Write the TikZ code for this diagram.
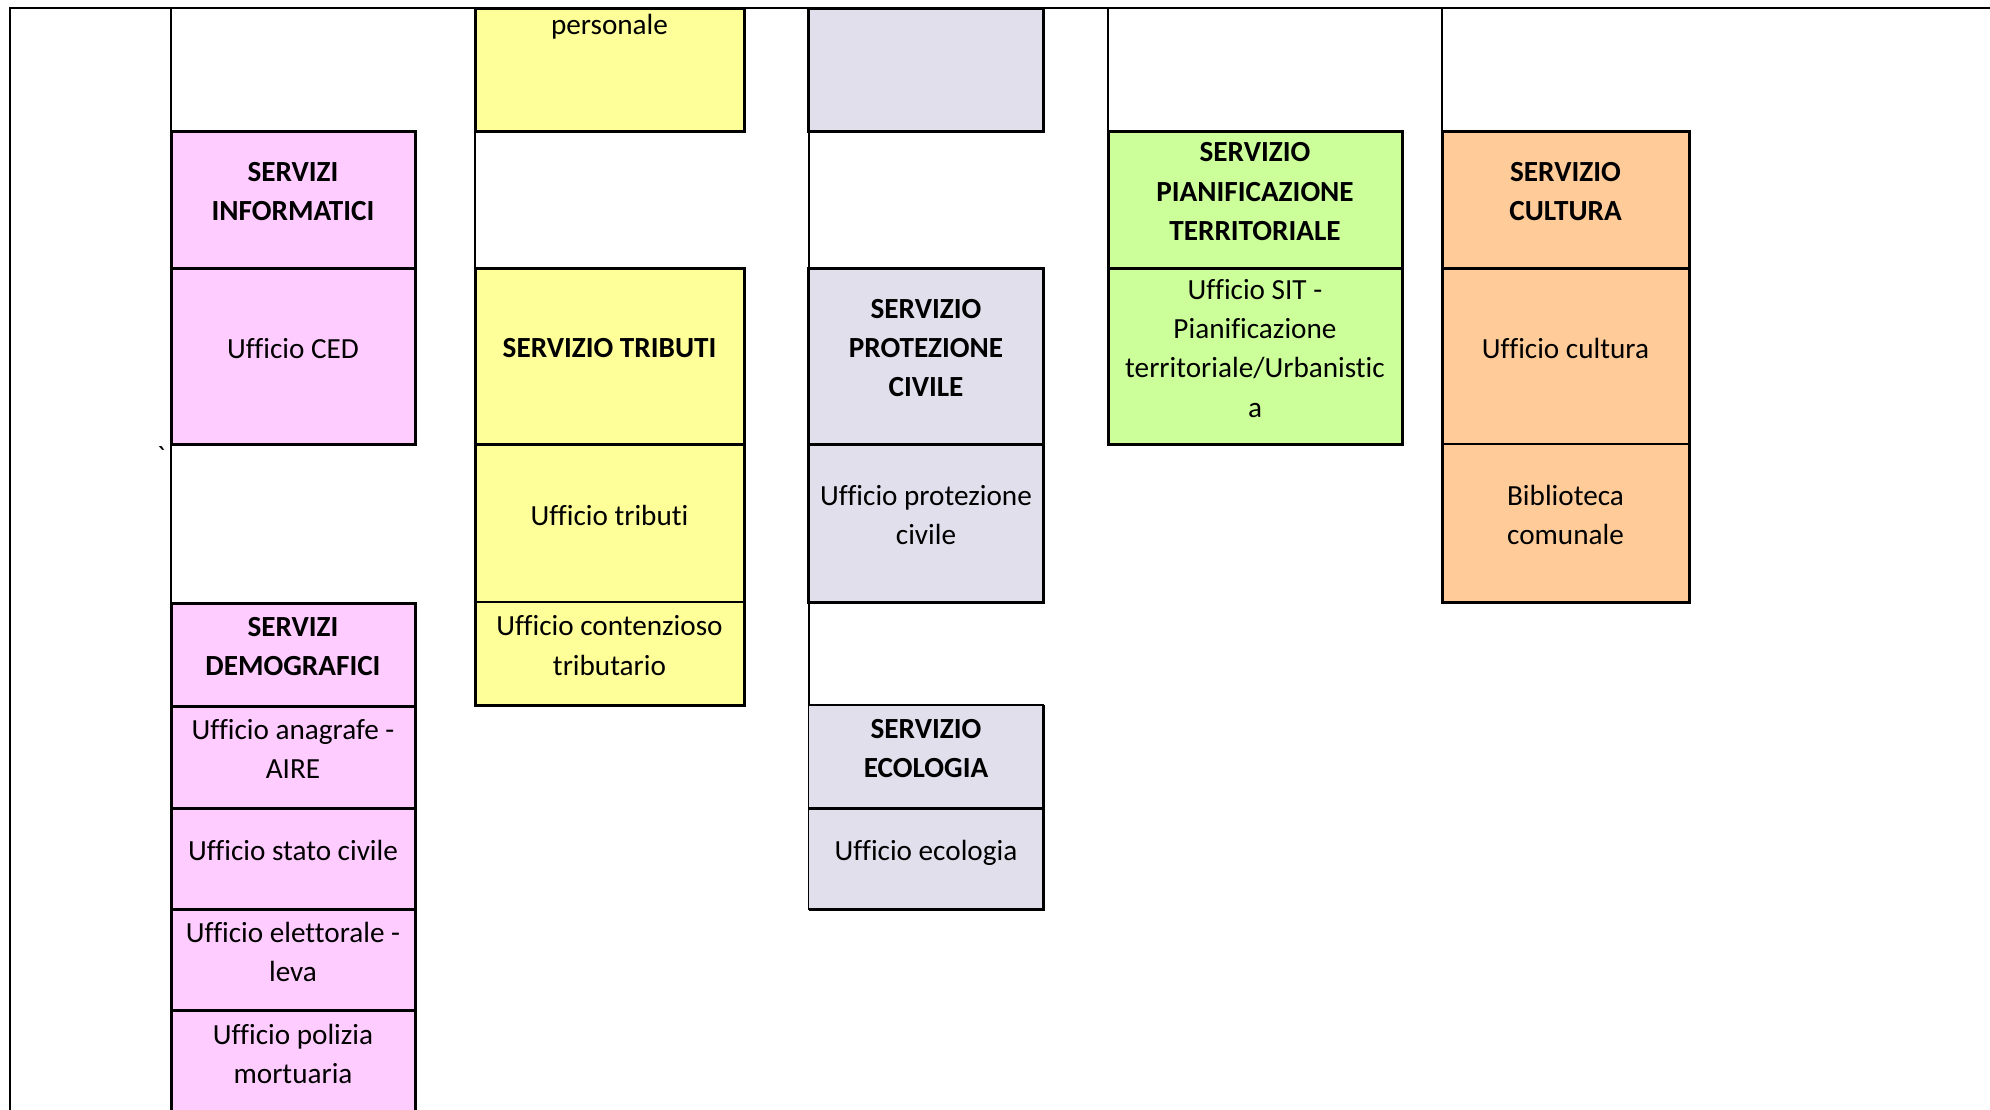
\documentclass[tikz,border=0pt]{standalone}
\usepackage{fontspec}
\setmainfont{Carlito}[RawFeature={-liga}]
\usepackage{tikz}
\newcommand{\cellfont}{\fontsize{29.2}{39.3}\selectfont}
\tikzstyle{cell} = [rectangle, draw, line width=3pt, align=center, inner sep=0pt, outer sep=0pt, text depth=16pt, font=\cellfont]
\tikzstyle{thincell} = [cell, line width=1.3pt]
\tikzstyle{head} = [font=\cellfont\bfseries]
\tikzstyle{frame} = [draw, line width=3pt]
\tikzstyle{link} = [draw, line width=2pt]
\tikzstyle{pagerule} = [draw, line width=2.6pt]
\definecolor{cpink}{HTML}{FFCCFF}
\definecolor{cyellow}{HTML}{FFFF99}
\definecolor{clav}{HTML}{E2DFEC}
\definecolor{cgreen}{HTML}{CCFF99}
\definecolor{corange}{HTML}{FFCC99}
\tikzstyle{pinkcol} = [fill=cpink, minimum width=244pt]
\tikzstyle{yellowcol} = [fill=cyellow, minimum width=269pt]
\tikzstyle{lavcol} = [fill=clav, minimum width=235pt]
\tikzstyle{greencol} = [fill=cgreen, minimum width=294pt]
\tikzstyle{orangecol} = [fill=corange, minimum width=247pt]

\begin{document}
\begin{tikzpicture}[x=1pt, y=-1pt]
\useasboundingbox (0, 0) rectangle (1990, 1109);
\clip (0, 0) rectangle (1990, 1109);

%% page rules
\coordinate (topleft) at (10, 8);
\coordinate (topright) at (1990, 8);
\coordinate (botleft) at (10, 1112);

%% servizi informatici / demografici
\node[cell, pinkcol, head, minimum height=137pt] at (293, 199.5) (inform) {SERVIZI\\INFORMATICI};
\node[cell, pinkcol, minimum height=176pt] at (293, 356) (ced) {Ufficio CED};
\node[cell, pinkcol, head, minimum height=103pt] at (293, 654.5) (demo) {SERVIZI\\DEMOGRAFICI};
\node[cell, pinkcol, minimum height=102pt] at (293, 757) (anagrafe) {Ufficio anagrafe -\\AIRE};
\node[cell, pinkcol, minimum height=101pt] at (293, 858.5) (statociv) {Ufficio stato civile};
\node[cell, pinkcol, minimum height=101pt] at (293, 959.5) (elett) {Ufficio elettorale -\\leva};
\node[cell, pinkcol, minimum height=103pt] at (293, 1061.5) (polizia) {Ufficio polizia\\mortuaria};
\node[font=\cellfont, anchor=base] at (161, 466) (tick) {\textasciigrave};

%% servizio tributi
\node[cell, yellowcol, minimum height=123pt] at (609.5, 69.5) (pers) {};
\node[font=\cellfont, anchor=base] at (609.5, 34.5) (perstext) {personale};
\node[cell, yellowcol, head, minimum height=176pt] at (609.5, 356) (trib) {SERVIZIO TRIBUTI};
\node[thincell, yellowcol, minimum height=158pt] at (609.5, 523) (uftrib) {Ufficio tributi};
\node[thincell, yellowcol, minimum height=103pt] at (609.5, 653.5) (contenz) {Ufficio contenzioso\\tributario};
\path[frame] (uftrib.north west) rectangle (contenz.south east);

%% protezione civile / ecologia
\node[cell, lavcol, minimum height=123pt] at (926, 69.5) (civtop) {};
\node[cell, lavcol, head, minimum height=176pt] at (926, 356) (prot) {SERVIZIO\\PROTEZIONE\\CIVILE};
\node[cell, lavcol, minimum height=158pt] at (926, 523) (ufprot) {Ufficio protezione\\civile};
\node[thincell, lavcol, head, minimum height=103pt] at (926, 756.5) (eco) {SERVIZIO\\ECOLOGIA};
\node[thincell, lavcol, minimum height=101pt] at (926, 858.5) (ufeco) {Ufficio ecologia};
\path[frame] (eco.north east) -- (ufeco.south east) -- (ufeco.south west);
\path[frame] (eco.south west) -- (eco.south east);

%% pianificazione territoriale
\node[cell, greencol, head, minimum height=137pt] at (1255, 199.5) (pian) {SERVIZIO\\PIANIFICAZIONE\\TERRITORIALE};
\node[cell, greencol, minimum height=176pt] at (1255, 356) (sit) {Ufficio SIT -\\Pianificazione\\territoriale/Urbanistic\\a};

%% servizio cultura
\node[cell, orangecol, head, minimum height=137pt] at (1565.5, 199.5) (cult) {SERVIZIO\\CULTURA};
\node[thincell, orangecol, minimum height=176pt] at (1565.5, 356) (ufcult) {Ufficio cultura};
\node[thincell, orangecol, minimum height=158pt] at (1565.5, 523) (biblio) {Biblioteca\\comunale};
\path[frame] (ufcult.north west) rectangle (biblio.south east);

%% connectors
\path[link] (inform.north west |- topleft) -- (inform.north west);
\path[link] (ced.south west) -- (demo.north west);
\path[link] (pers.south west) -- (trib.north west);
\path[link] (civtop.south west) -- (prot.north west);
\path[link] (ufprot.south west) -- (eco.north west);
\path[link] (pian.north west |- topleft) -- (pian.north west);
\path[link] (cult.north west |- topleft) -- (cult.north west);
\path[pagerule] (botleft) -- (topleft) -- (topright);

\end{tikzpicture}
\end{document}
